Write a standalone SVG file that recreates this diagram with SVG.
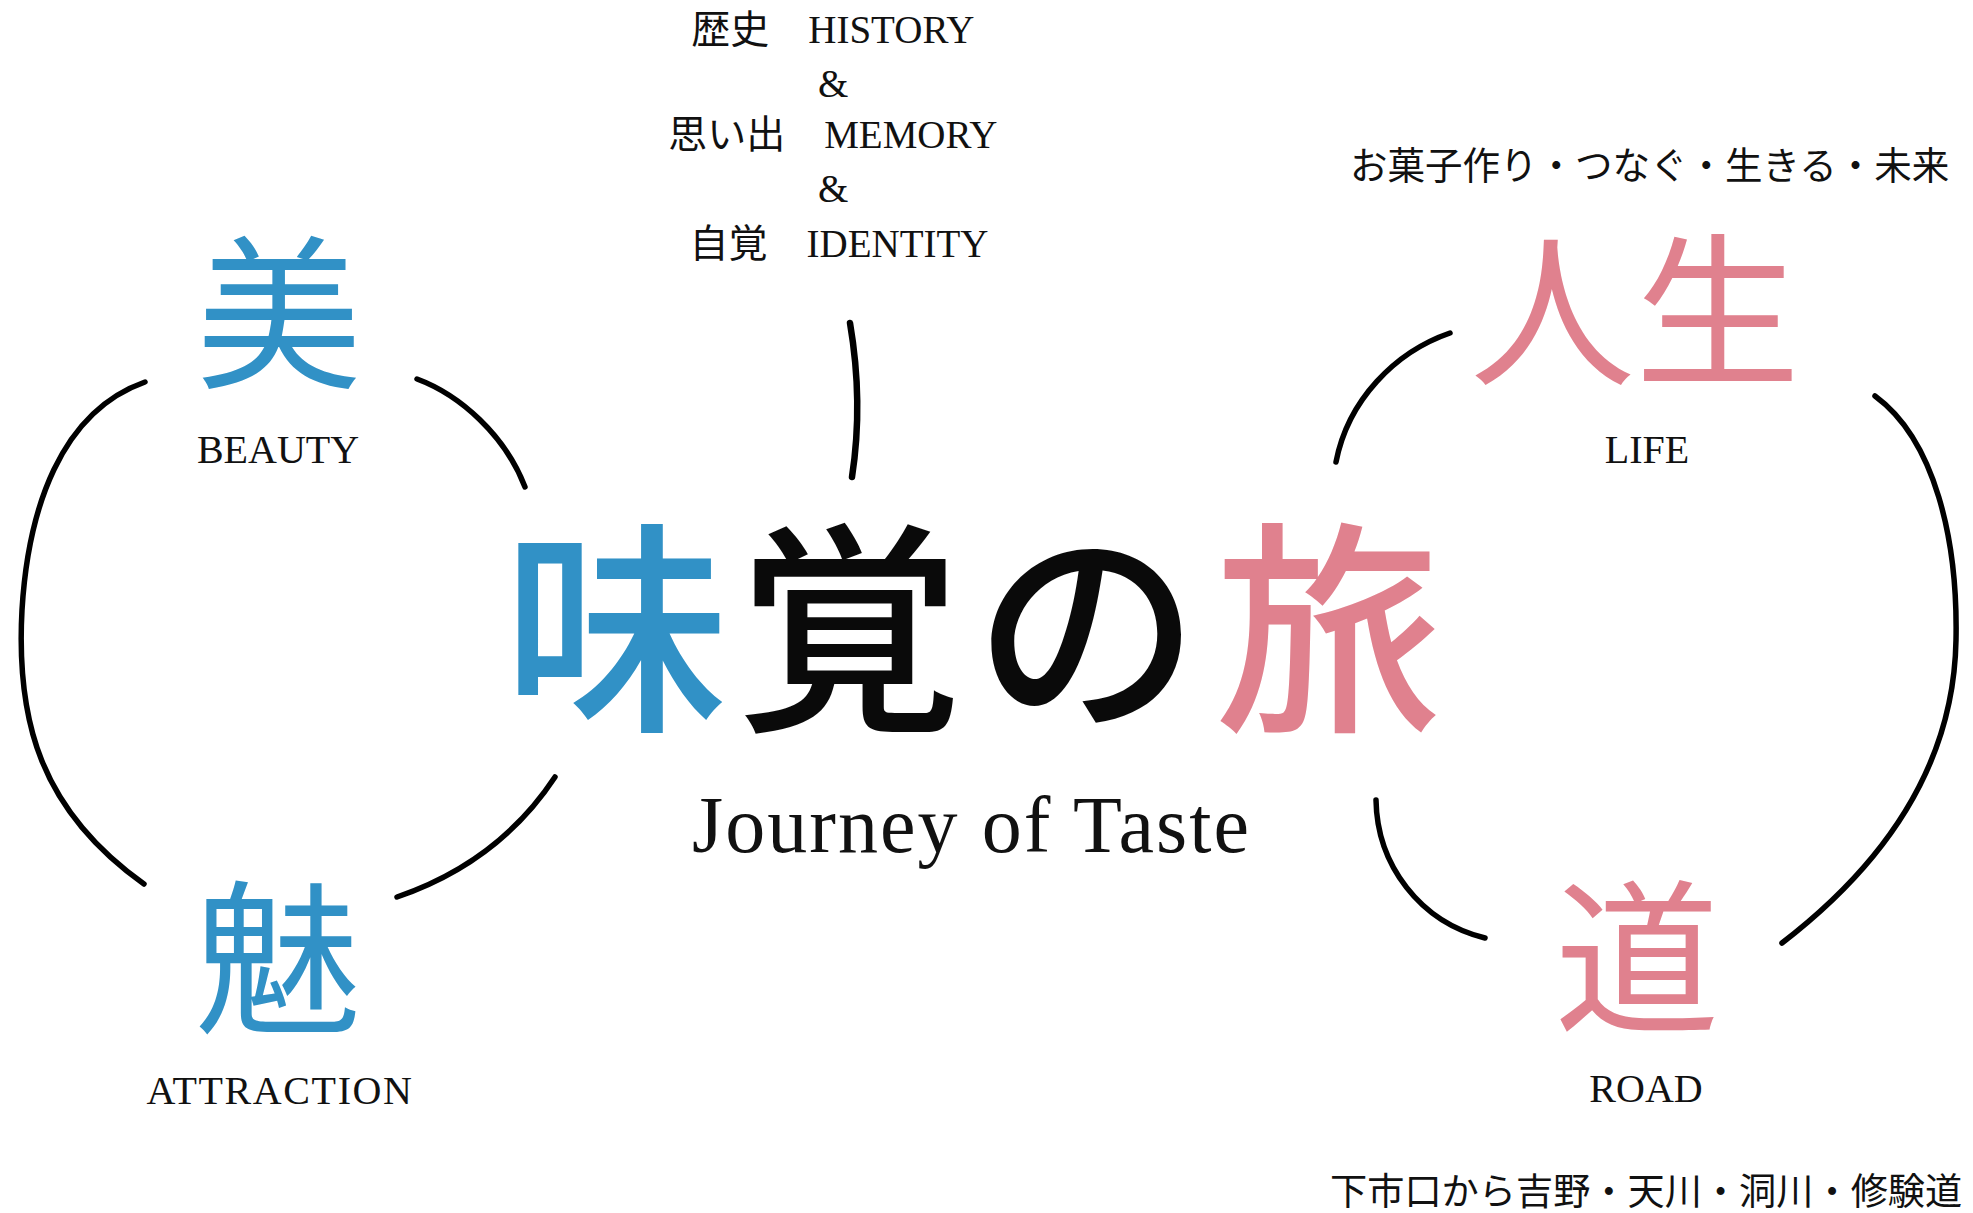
<svg xmlns="http://www.w3.org/2000/svg" width="1973" height="1213" viewBox="0 0 1973 1213">
<style>
.bg{fill:#ffffff}
.lat{font-family:"Liberation Serif","Noto Sans CJK JP",serif;fill:#111111}
.jp{font-family:"Noto Sans CJK JP","Liberation Serif",sans-serif;fill:#111111}
.big{font-family:"Noto Sans CJK JP",sans-serif;font-size:165px;text-anchor:middle}
.lbl{font-family:"Liberation Serif",serif;font-size:40px;text-anchor:middle;fill:#111111}
.blue{fill:#3191c6}
.pink{fill:#e0818e}
.blk{fill:#0a0a0a}
.arc{fill:none;stroke:#000000;stroke-width:5.5;stroke-linecap:round}
</style>
<rect class="bg" x="0" y="0" width="1973" height="1213"/>

<g id="connectors">
  <path class="arc" d="M145,382 C 60,412 28,510 22,610 C 16,720 40,810 144,884"/>
  <path class="arc" d="M417,379 C 460,395 505,435 525,487"/>
  <path class="arc" d="M555,777 C 520,830 470,872 397,897"/>
  <path class="arc" style="stroke-width:6.5" d="M850,323 C 858,370 860,425 852,477"/>
  <path class="arc" d="M1450,333 C 1395,352 1348,400 1336,462"/>
  <path class="arc" d="M1875,396 C 1935,440 1958,540 1956,640 C 1954,760 1890,860 1782,943"/>
  <path class="arc" d="M1376,800 C 1377,865 1420,922 1485,938"/>
</g>

<g id="history">
  <text class="lat" font-size="39" text-anchor="middle">
    <tspan x="837" y="43">歴史　HISTORY</tspan>
    <tspan x="838" y="97">&amp;</tspan>
    <tspan x="837" y="148">思い出　MEMORY</tspan>
    <tspan x="838" y="202">&amp;</tspan>
    <tspan x="839" y="257">自覚　IDENTITY</tspan>
  </text>
</g>

<g id="title">
  <text font-family="Noto Sans CJK JP, sans-serif" font-size="226" font-weight="500" y="714">
    <tspan class="blue" x="503">味</tspan><tspan class="blk" x="736">覚</tspan><tspan class="blk" x="974">の</tspan><tspan class="pink" x="1215">旅</tspan>
  </text>
  <text class="lat" font-size="80" x="692" y="852" textLength="557" lengthAdjust="spacing">Journey of Taste</text>
</g>

<g id="beauty">
  <text class="big blue" x="279" y="375">美</text>
  <text class="lbl" x="278" y="463">BEAUTY</text>
</g>

<g id="attraction">
  <text class="big blue" x="278" y="1020">魅</text>
  <text class="lbl" x="280" y="1104" letter-spacing="1.6">ATTRACTION</text>
</g>

<g id="life">
  <text class="big pink" x="1635" y="373">人生</text>
  <text class="lbl" x="1647" y="463">LIFE</text>
  <text class="jp" font-size="37.5" x="1350" y="179">お菓子作り・つなぐ・生きる・未来</text>
</g>

<g id="road">
  <text class="big pink" x="1637" y="1019">道</text>
  <text class="lbl" x="1646" y="1102">ROAD</text>
  <text class="jp" font-size="37.2" x="1330" y="1205">下市口から吉野・天川・洞川・修験道</text>
</g>
</svg>
